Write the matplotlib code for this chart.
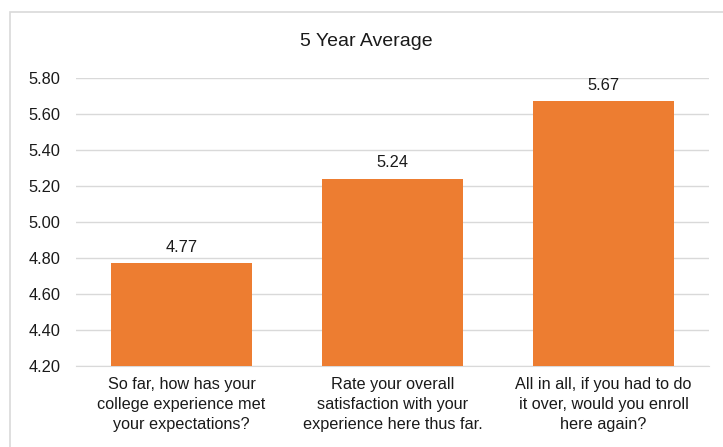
import matplotlib
matplotlib.use('Agg')
import matplotlib.pyplot as plt
from matplotlib.patches import Rectangle

# ---- data ------------------------------------------------------------------
categories = [
    'So far, how has your\ncollege experience met\nyour expectations?',
    'Rate your overall\nsatisfaction with your\nexperience here thus far.',
    'All in all, if you had to do\nit over, would you enroll\nhere again?',
]
averages = [4.77, 5.24, 5.67]
yticks = [4.20, 4.40, 4.60, 4.80, 5.00, 5.20, 5.40, 5.60, 5.80]

ORANGE = '#ED7D31'
GRID = '#D9D9D9'
INK = '#1A1A1A'

plt.rcParams['font.family'] = ['Liberation Sans', 'DejaVu Sans']

fig = plt.figure(figsize=(7.23, 4.47), dpi=100)
fig.patch.set_facecolor('white')

# chart-area border (Excel style)
fig.patches.append(Rectangle((10 / 723, -0.05), 1.0, 1 - 12 / 447 + 0.05,
                             transform=fig.transFigure, fill=False,
                             edgecolor=GRID, linewidth=1.2))

ax = fig.add_axes([76 / 723, 1 - 366 / 447, 633 / 723, (366 - 78) / 447])
x = range(len(categories))
bars = ax.bar(x, averages, width=0.67, color=ORANGE, zorder=3)
ax.set_xlim(-0.5, 2.5)
ax.set_ylim(4.2, 5.8)
ax.set_yticks(yticks)
ax.set_yticklabels([f'{v:.2f}' for v in yticks])
ax.set_xticks(list(x))
ax.set_xticklabels(categories, fontsize=11.7, color=INK, linespacing=1.42)
ax.tick_params(axis='both', length=0, colors=INK)
ax.tick_params(axis='y', labelsize=11.8, pad=11)
ax.tick_params(axis='x', pad=8)
ax.grid(axis='y', color=GRID, linewidth=1.0, zorder=0)
for s in ['top', 'right', 'left']:
    ax.spines[s].set_visible(False)
ax.spines['bottom'].set_color(GRID)
ax.set_facecolor('none')

for b, v in zip(bars, averages):
    ax.annotate(f'{v:.2f}', (b.get_x() + b.get_width() / 2, v),
                xytext=(0, 6), textcoords='offset points',
                ha='center', va='bottom', fontsize=11.8, color=INK)

fig.text(366 / 723, 1 - 42 / 447, '5 Year Average', ha='center', va='center',
         fontsize=14, color=INK)

fig.savefig('out.png', dpi=100, facecolor='white')
